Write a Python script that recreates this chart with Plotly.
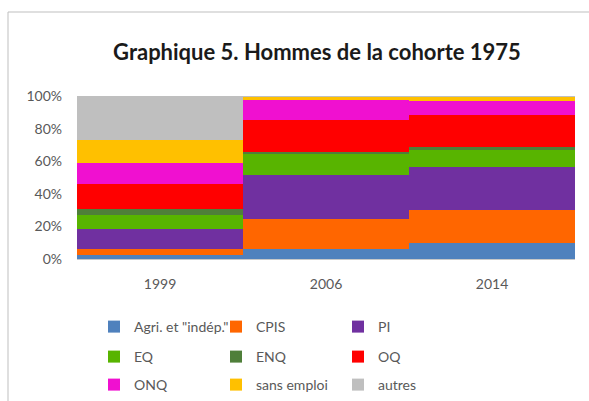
import plotly.graph_objects as go

# Share of each occupational group (%) per survey year
years = ["1999", "2006", "2014"]
categories = ["Agri. et \"indép.\"", "CPIS", "PI", "EQ", "ENQ", "OQ", "ONQ", "sans emploi", "autres"]
agri = [2.2, 6.1, 10.0]
cpis = [4.1, 18.3, 20.2]
pi = [12.4, 27.3, 26.1]
eq = [8.4, 13.2, 11.3]
enq = [3.7, 0.5, 1.0]
oq = [15.5, 19.9, 20.0]
onq = [12.5, 12.0, 8.4]
sans_emploi = [14.1, 2.4, 2.9]
autres = [27.3, 0.3, 0.3]
y_ticks = [0, 20, 40, 60, 80, 100]
y_tick_labels = ["0%", "20%", "40%", "60%", "80%", "100%"]

series = [agri, cpis, pi, eq, enq, oq, onq, sans_emploi, autres]
colors = ["#4F81BD", "#FF6600", "#7030A0", "#58B400", "#4F7F3A",
          "#FF0000", "#F010D0", "#FFC000", "#BFBFBF"]
legend_rows = ["legend", "legend", "legend",
               "legend2", "legend2", "legend2",
               "legend3", "legend3", "legend3"]

fig = go.Figure()
for name, vals, col, leg in zip(categories, series, colors, legend_rows):
    fig.add_trace(go.Bar(
        x=years, y=vals, name=name, legend=leg,
        marker=dict(color=col, line=dict(width=0)),
        width=1,
    ))

font = "Lato, 'Open Sans', sans-serif"
txt = "#595959"
L, R, T, B = 77, 14, 96, 142
W, H = 589, 401
pw, ph = W - L - R, H - T - B

def px_x(p):
    return (p - L) / pw

def px_y(p):
    return (H - B - p) / ph

legend_common = dict(
    orientation="h", xanchor="left", yanchor="middle",
    x=px_x(94), entrywidth=77, entrywidthmode="pixels",
    font=dict(family=font, size=14, color=txt),
    bgcolor="rgba(0,0,0,0)", traceorder="normal", itemwidth=30,
)

fig.update_layout(
    width=W, height=H,
    margin=dict(l=L, r=R, t=T, b=B, autoexpand=False),
    paper_bgcolor="white", plot_bgcolor="white",
    barmode="stack", barnorm="percent", bargap=0,
    title=dict(text="<b>Graphique 5. Hommes de la cohorte 1975</b>",
               x=317 / W, xanchor="center", y=1 - 52 / H, yanchor="middle",
               font=dict(family=font, size=22, color="#1a1a1a")),
    legend=dict(legend_common, y=px_y(327)),
    legend2=dict(legend_common, y=px_y(357)),
    legend3=dict(legend_common, y=px_y(385)),
    xaxis=dict(type="category", range=[-0.5, 2.5], showgrid=False,
               showline=True, linecolor="#C8C8C8", linewidth=1,
               ticks="", ticklabelstandoff=12,
               tickfont=dict(family=font, size=14, color=txt)),
    yaxis=dict(range=[0, 100], tickmode="array", tickvals=y_ticks,
               ticktext=y_tick_labels, showgrid=False, zeroline=False,
               showline=False, ticks="", ticklabelstandoff=14,
               tickfont=dict(family=font, size=14, color=txt)),
    showlegend=True,
)

# Chart frame (left and top edges)
frame = dict(type="line", xref="paper", yref="paper",
             line=dict(color="#BFBFBF", width=1))
fig.add_shape(frame, x0=px_x(8), x1=px_x(8), y0=px_y(12), y1=px_y(401))
fig.add_shape(frame, x0=px_x(8), x1=px_x(600), y0=px_y(12), y1=px_y(12))

fig.write_html("out.html")
